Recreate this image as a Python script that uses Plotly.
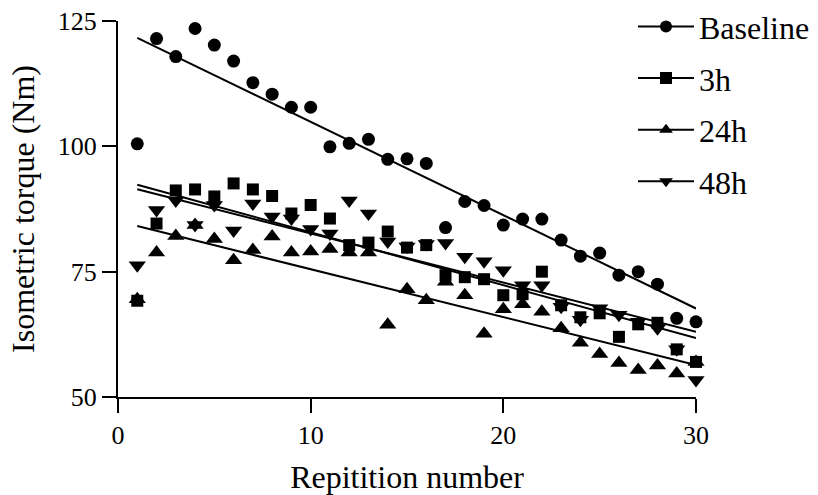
import numpy as np
import plotly.graph_objects as go

reps = list(range(1, 31))
baseline = [100.5, 121.5, 117.9, 123.5, 120.2, 117.0, 112.7, 110.4, 107.8, 107.8,
            99.9, 100.6, 101.4, 97.4, 97.5, 96.6, 83.8, 89.0, 88.2, 84.3,
            85.5, 85.5, 81.3, 78.1, 78.7, 74.3, 75.0, 72.5, 65.7, 65.0]
h3 = [69.2, 84.6, 91.2, 91.4, 90.0, 92.6, 91.4, 90.1, 86.6, 88.3,
      85.6, 80.3, 80.8, 83.0, 79.8, 80.3, 74.3, 73.9, 73.5, 70.3,
      70.5, 75.0, 68.3, 65.9, 66.7, 62.0, 64.5, 64.8, 59.5, 57.0]
h24 = [69.5, 78.8, 82.1, 84.3, 81.5, 77.3, 79.3, 82.0, 78.8, 79.0,
       79.5, 78.8, 78.8, 64.4, 71.5, 69.3, 73.0, 70.3, 62.6, 67.5,
       68.5, 67.0, 63.7, 60.8, 58.6, 56.8, 55.4, 56.3, 54.7, 57.0]
h48 = [76.3, 87.3, 89.2, 84.3, 88.3, 83.2, 88.6, 86.0, 85.6, 83.5,
       82.6, 89.2, 86.6, 81.0, 80.0, 80.5, 80.7, 78.0, 77.1, 75.3,
       72.3, 72.3, 68.0, 65.4, 67.7, 66.4, 65.0, 63.7, 59.5, 53.4]

series = [
    ("Baseline", baseline, "circle", 13),
    ("3h", h3, "square", 12),
    ("24h", h24, "triangle-up", 15),
    ("48h", h48, "triangle-down", 15),
]

FONT = "Liberation Serif, Times New Roman, serif"
fig = go.Figure()
xs = np.array(reps, dtype=float)
for name, vals, sym, size in series:
    ys = np.array(vals, dtype=float)
    m, b = np.polyfit(xs, ys, 1)
    xl = np.array([xs.min(), xs.max()])
    fig.add_trace(go.Scatter(x=xl, y=m * xl + b, mode="lines",
                             line=dict(color="black", width=2),
                             showlegend=False, hoverinfo="skip", cliponaxis=False))
    fig.add_trace(go.Scatter(x=reps, y=vals, mode="markers", name=name,
                             marker=dict(symbol=sym, size=size, color="black"),
                             showlegend=False, cliponaxis=False))
    fig.add_trace(go.Scatter(x=[None], y=[None], mode="lines+markers", name=name,
                             legendgroup=name,
                             marker=dict(symbol=sym, size=min(size, 12), color="black"),
                             line=dict(color="black", width=2)))

axis_common = dict(showline=True, linecolor="black", linewidth=2, ticks="outside",
                   ticklen=14, tickwidth=2, tickcolor="black", showgrid=False,
                   zeroline=False, automargin=False,
                   tickfont=dict(family=FONT, size=26, color="black"))

fig.update_layout(
    width=818, height=495,
    margin=dict(l=118, r=122, t=21, b=98, autoexpand=False),
    paper_bgcolor="white", plot_bgcolor="white",
    xaxis=dict(range=[0, 30], tickvals=[0, 10, 20, 30],
               title=dict(text="Repitition number", standoff=20,
                          font=dict(family=FONT, size=32, color="black")),
               **axis_common),
    yaxis=dict(range=[50, 125], tickvals=[50, 75, 100, 125],
               title=dict(text="Isometric torque (Nm)", standoff=14,
                          font=dict(family=FONT, size=32, color="black")),
               **axis_common),
    legend=dict(x=0.891, xanchor="left", y=1.058, yanchor="top",
                font=dict(family=FONT, size=32, color="black"),
                itemwidth=56, tracegroupgap=7, bgcolor="rgba(0,0,0,0)"),
    showlegend=True,
)

fig.write_html("out.html")
